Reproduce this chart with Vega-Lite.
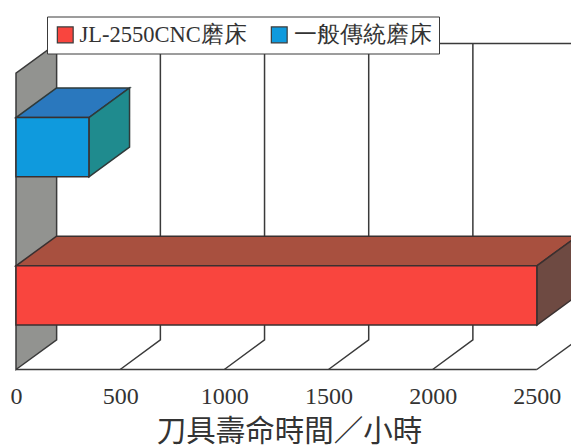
{
"$schema":"https://vega.github.io/schema/vega-lite/v6.json",
"width":555,"height":326,
"autosize":{"type":"none"},
"padding":{"left":16,"top":43.5,"right":0,"bottom":78.5},
"background":"white",
"config":{"view":{"stroke":null},"line":{"color":"#3a3a3a","strokeWidth":1.5}},
"datasets":{
"bars":[{"series":"JL-2550CNC磨床","hours":0,"hours_end":2500,"low":0.3,"high":0.7},{"series":"一般傳統磨床","hours":0,"hours_end":350,"low":1.3,"high":1.7}],
"tops":[{"series":"JL-2550CNC磨床","level":0.7,"from":0,"to":2500},{"series":"JL-2550CNC磨床","level":0.9,"from":195,"to":2695},{"series":"一般傳統磨床","level":1.7,"from":0,"to":350},{"series":"一般傳統磨床","level":1.9,"from":195,"to":545}],
"sides":[{"series":"JL-2550CNC磨床","hours":2500,"low":0.3,"high":0.7},{"series":"JL-2550CNC磨床","hours":2695,"low":0.5,"high":0.9},{"series":"一般傳統磨床","hours":350,"low":1.3,"high":1.7},{"series":"一般傳統磨床","hours":545,"low":1.5,"high":1.9}],
"wall":[{"hours":0,"low":0,"high":2},{"hours":195,"low":0.2,"high":2.2}],
"grid":[
{"path":"500","order":1,"hours":500,"level":0},{"path":"500","order":2,"hours":693,"level":0.2},{"path":"500","order":3,"hours":693,"level":2.2},
{"path":"1000","order":1,"hours":1000,"level":0},{"path":"1000","order":2,"hours":1193,"level":0.2},{"path":"1000","order":3,"hours":1193,"level":2.2},
{"path":"1500","order":1,"hours":1500,"level":0},{"path":"1500","order":2,"hours":1693,"level":0.2},{"path":"1500","order":3,"hours":1693,"level":2.2},
{"path":"2000","order":1,"hours":2000,"level":0},{"path":"2000","order":2,"hours":2193,"level":0.2},{"path":"2000","order":3,"hours":2193,"level":2.2},
{"path":"2500","order":1,"hours":2500,"level":0},{"path":"2500","order":2,"hours":2695,"level":0.2},
{"path":"floor","order":1,"hours":0,"level":0},{"path":"floor","order":2,"hours":2500,"level":0},
{"path":"back","order":1,"hours":195,"level":2.2},{"path":"back","order":2,"hours":2695,"level":2.2}
]},
"layer":[
{"data":{"name":"wall"},"mark":{"type":"area","fill":"#929390","stroke":"#3a3a3a","strokeWidth":1.5},
"encoding":{
"x":{"field":"hours","type":"quantitative","scale":{"domain":[0,2664],"nice":false,"zero":false},
"axis":{"values":[0,500,1000,1500,2000,2500],"format":"d","domain":false,"ticks":false,"grid":false,"labelFont":"Liberation Serif","labelFontSize":24,"labelColor":"#333333","labelPadding":15,"labelFlush":false,"labelOverlap":false,"title":"刀具壽命時間／小時","titleFont":"Noto Sans CJK TC","titleFontSize":29.5,"titleFontWeight":"normal","titleColor":"#333333","titleX":273,"titleY":62,"titleBaseline":"middle","titleAlign":"center"}},
"y":{"field":"low","type":"quantitative","scale":{"domain":[0,2.2],"nice":false,"zero":false},
"axis":{"values":[1,2],"domain":false,"grid":false,"labels":false,"title":null,"tickSize":-7,"tickColor":"#3a3a3a","tickWidth":1.5}},
"y2":{"field":"high"}}},
{"data":{"name":"grid"},"mark":{"type":"line"},
"encoding":{"x":{"field":"hours","type":"quantitative"},"y":{"field":"level","type":"quantitative"},"detail":{"field":"path"},"order":{"field":"order","type":"quantitative"}}},
{"data":{"name":"tops"},"transform":[{"filter":"datum.series==='一般傳統磨床'"}],"mark":{"type":"area","orient":"horizontal","fill":"#2a78be","stroke":"#2f3a3a","strokeWidth":1.5},
"encoding":{"y":{"field":"level","type":"quantitative"},"x":{"field":"from","type":"quantitative"},"x2":{"field":"to"}}},
{"data":{"name":"sides"},"transform":[{"filter":"datum.series==='一般傳統磨床'"}],"mark":{"type":"area","fill":"#1f8b8e","stroke":"#2f3a3a","strokeWidth":1.5},
"encoding":{"x":{"field":"hours","type":"quantitative"},"y":{"field":"low","type":"quantitative"},"y2":{"field":"high"}}},
{"data":{"name":"tops"},"transform":[{"filter":"datum.series==='JL-2550CNC磨床'"}],"mark":{"type":"area","orient":"horizontal","fill":"#a8503f","stroke":"#3a3030","strokeWidth":1.5},
"encoding":{"y":{"field":"level","type":"quantitative"},"x":{"field":"from","type":"quantitative"},"x2":{"field":"to"}}},
{"data":{"name":"sides"},"transform":[{"filter":"datum.series==='JL-2550CNC磨床'"}],"mark":{"type":"area","fill":"#6e4a42","stroke":"#3a3030","strokeWidth":1.5},
"encoding":{"x":{"field":"hours","type":"quantitative"},"y":{"field":"low","type":"quantitative"},"y2":{"field":"high"}}},
{"data":{"name":"bars"},"mark":{"type":"rect","stroke":"#3a3030","strokeWidth":1.5},
"encoding":{"x":{"field":"hours","type":"quantitative"},"x2":{"field":"hours_end"},"y":{"field":"low","type":"quantitative"},"y2":{"field":"high"},
"fill":{"field":"series","type":"nominal","scale":{"domain":["JL-2550CNC磨床","一般傳統磨床"],"range":["#f9453e","#0f9add"]},
"legend":{"title":null,"orient":"none","direction":"horizontal","legendX":31,"legendY":-27,"fillColor":"white","strokeColor":"#3a3a3a","padding":7,"symbolType":"square","symbolSize":250,"symbolStrokeColor":"#3a3a3a","symbolStrokeWidth":1.2,"symbolOpacity":1,"labelFont":"Liberation Serif","labelFontSize":22.5,"labelColor":"#333333","labelLimit":300,"labelOffset":3,"columns":2,"columnPadding":21,"zindex":2}}}}
]
}
